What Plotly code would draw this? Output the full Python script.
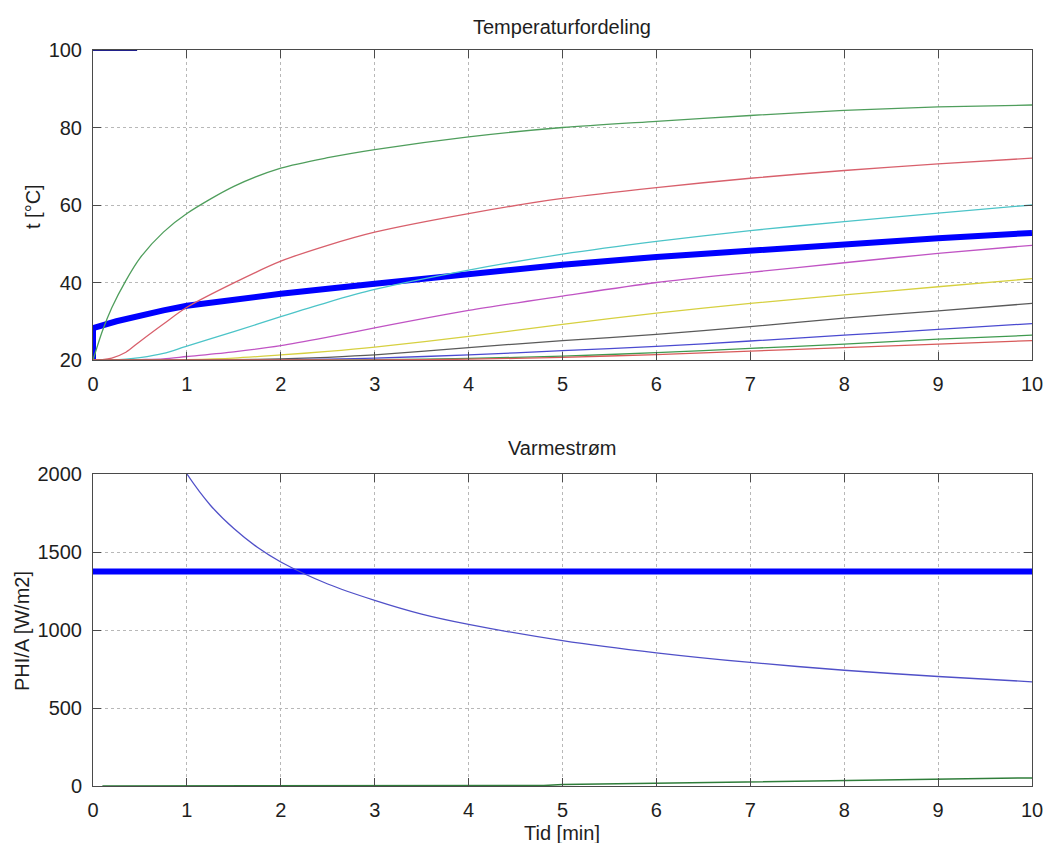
import plotly.graph_objects as go

# ---- Temperature distribution (upper panel) ----
TIME = [0, 0.1, 0.2, 0.35, 0.5, 0.75, 1, 1.5, 2, 2.5, 3, 4, 5, 6, 7, 8, 9, 10]

LAYER_TEMPS = {
    "lag 1": [20, 27.5, 33.5, 40.5, 46.3, 53.0, 57.8, 64.8, 69.5, 72.2, 74.3, 77.6, 80.0, 81.6, 83.1, 84.4, 85.3, 85.8],
    "lag 2": [20, 20.1, 20.5, 22.0, 24.8, 29.3, 33.6, 39.9, 45.5, 49.6, 53.0, 57.8, 61.7, 64.5, 66.9, 68.9, 70.6, 72.1],
    "lag 3": [20, 20.0, 20.0, 20.2, 20.6, 21.7, 23.6, 27.3, 31.2, 34.9, 38.2, 43.2, 47.3, 50.6, 53.4, 55.7, 57.9, 60.0],
    "lag 4": [20, 20.0, 20.0, 20.0, 20.1, 20.3, 20.9, 22.1, 23.7, 25.9, 28.3, 32.8, 36.5, 40.0, 42.6, 45.1, 47.5, 49.6],
    "lag 5": [20, 20.0, 20.0, 20.0, 20.0, 20.0, 20.1, 20.5, 21.3, 22.2, 23.3, 26.1, 29.2, 32.1, 34.6, 36.8, 38.9, 41.0],
    "lag 6": [20, 20.0, 20.0, 20.0, 20.0, 20.0, 20.0, 20.1, 20.3, 20.7, 21.3, 23.2, 25.0, 26.6, 28.6, 30.8, 32.7, 34.6],
    "lag 7": [20, 20.0, 20.0, 20.0, 20.0, 20.0, 20.0, 20.0, 20.1, 20.2, 20.5, 21.3, 22.4, 23.5, 24.9, 26.4, 27.9, 29.4],
    "lag 8": [20, 20.0, 20.0, 20.0, 20.0, 20.0, 20.0, 20.0, 20.0, 20.0, 20.1, 20.4, 21.0, 21.9, 23.0, 24.1, 25.4, 26.4],
    "lag 9": [20, 20.0, 20.0, 20.0, 20.0, 20.0, 20.0, 20.0, 20.0, 20.0, 20.0, 20.2, 20.7, 21.4, 22.3, 23.2, 24.1, 25.0],
}
LAYER_COLORS = ["#4f9e5c", "#d8606c", "#4cc4c8", "#c054c4", "#d6d040",
                "#5a5a5a", "#4a4ad0", "#3f9a4f", "#d85a5a"]

# surface temperature
SURFACE_TIME = [0, 0.47]
SURFACE_TEMP = [100, 100]

# mean temperature (thick line)
MEAN_TIME = [0, 0, 0.25, 0.5, 0.75, 1, 1.5, 2, 3, 4, 5, 6, 7, 8, 9, 10]
MEAN_TEMP = [20, 28.2, 30.0, 31.5, 32.8, 34.0, 35.7, 37.1, 39.7, 42.3, 44.6, 46.6, 48.3, 49.9, 51.4, 52.8]

# ---- Heat flux (lower panel) ----
FLUX_TIME = [0.95, 1, 1.25, 1.5, 1.75, 2, 2.5, 3, 3.5, 4, 5, 6, 7, 8, 9, 10]
FLUX_IN = [2050, 2000, 1800, 1650, 1530, 1436, 1295, 1190, 1102, 1036, 932, 854, 792, 742, 702, 668]

SUPPLY_TIME = [0, 10]
SUPPLY_FLUX = [1375, 1375]

FLUX_OUT_TIME = [0.1, 4.0, 4.8, 5, 6, 7, 8, 9, 10]
FLUX_OUT = [0, 0, 3, 10, 18, 28, 37, 45, 52]

X_TICKS = list(range(0, 11))
T_TICKS = [20, 40, 60, 80, 100]
Q_TICKS = [0, 500, 1000, 1500, 2000]

FONT = "Liberation Sans, Arial, sans-serif"
TXT = "#1e1e1e"

fig = go.Figure()

# upper panel
fig.add_trace(go.Scatter(x=SURFACE_TIME, y=SURFACE_TEMP, mode="lines",
                         line=dict(color="#20208a", width=2), xaxis="x", yaxis="y"))
fig.add_trace(go.Scatter(x=MEAN_TIME, y=MEAN_TEMP, mode="lines",
                         line=dict(color="#0000ff", width=6), xaxis="x", yaxis="y"))
for (name, temps), col in zip(LAYER_TEMPS.items(), LAYER_COLORS):
    fig.add_trace(go.Scatter(x=TIME, y=temps, mode="lines", name=name,
                             line=dict(color=col, width=1.3, shape="spline", smoothing=0.8),
                             xaxis="x", yaxis="y"))

# lower panel
fig.add_trace(go.Scatter(x=SUPPLY_TIME, y=SUPPLY_FLUX, mode="lines",
                         line=dict(color="#0000ff", width=6), xaxis="x2", yaxis="y2"))
fig.add_trace(go.Scatter(x=FLUX_TIME, y=FLUX_IN, mode="lines",
                         line=dict(color="#5050c8", width=1.3, shape="spline", smoothing=0.8),
                         xaxis="x2", yaxis="y2"))
fig.add_trace(go.Scatter(x=FLUX_OUT_TIME, y=FLUX_OUT, mode="lines",
                         line=dict(color="#2f7d3a", width=1.5), xaxis="x2", yaxis="y2"))

W, H = 1049, 843
x_dom = [93 / W, 1032 / W]
top_dom = [1 - 360 / H, 1 - 50 / H]
bot_dom = [1 - 786 / H, 1 - 474 / H]

axis_common = dict(
    showline=True, linecolor="#4a4a4a", linewidth=1, mirror="allticks",
    ticks="inside", ticklen=8, tickcolor="#4a4a4a", tickwidth=1,
    showgrid=True, gridcolor="#b8b8b8", griddash="dot", gridwidth=1,
    zeroline=False, tickfont=dict(family=FONT, size=20, color=TXT),
    ticklabelstandoff=6, automargin=False,
)

fig.update_layout(
    width=W, height=H, margin=dict(l=0, r=0, t=0, b=0, autoexpand=False),
    paper_bgcolor="white", plot_bgcolor="white", showlegend=False,
    font=dict(family=FONT, color=TXT),
    xaxis=dict(domain=x_dom, anchor="y", range=[0, 10], tickvals=X_TICKS, **axis_common),
    yaxis=dict(domain=top_dom, anchor="x", range=[20, 100], tickvals=T_TICKS, **axis_common),
    xaxis2=dict(domain=x_dom, anchor="y2", range=[0, 10], tickvals=X_TICKS, **axis_common),
    yaxis2=dict(domain=bot_dom, anchor="x2", range=[0, 2000], tickvals=Q_TICKS, **axis_common),
    annotations=[
        dict(text="Temperaturfordeling", x=562 / W, y=1 - 27 / H, xref="paper", yref="paper",
             showarrow=False, font=dict(size=20, family=FONT, color=TXT), xanchor="center", yanchor="middle"),
        dict(text="Varmestrøm", x=562 / W, y=1 - 448 / H, xref="paper", yref="paper",
             showarrow=False, font=dict(size=20, family=FONT, color=TXT), xanchor="center", yanchor="middle"),
        dict(text="Tid [min]", x=562 / W, y=1 - 833 / H, xref="paper", yref="paper",
             showarrow=False, font=dict(size=20, family=FONT, color=TXT), xanchor="center", yanchor="middle"),
        dict(text="t [°C]", x=33 / W, y=1 - 207 / H, xref="paper", yref="paper", textangle=-90,
             showarrow=False, font=dict(size=20, family=FONT, color=TXT), xanchor="center", yanchor="middle"),
        dict(text="PHI/A [W/m2]", x=22 / W, y=1 - 631 / H, xref="paper", yref="paper", textangle=-90,
             showarrow=False, font=dict(size=20, family=FONT, color=TXT), xanchor="center", yanchor="middle"),
    ],
)

fig.write_html("out.html")
